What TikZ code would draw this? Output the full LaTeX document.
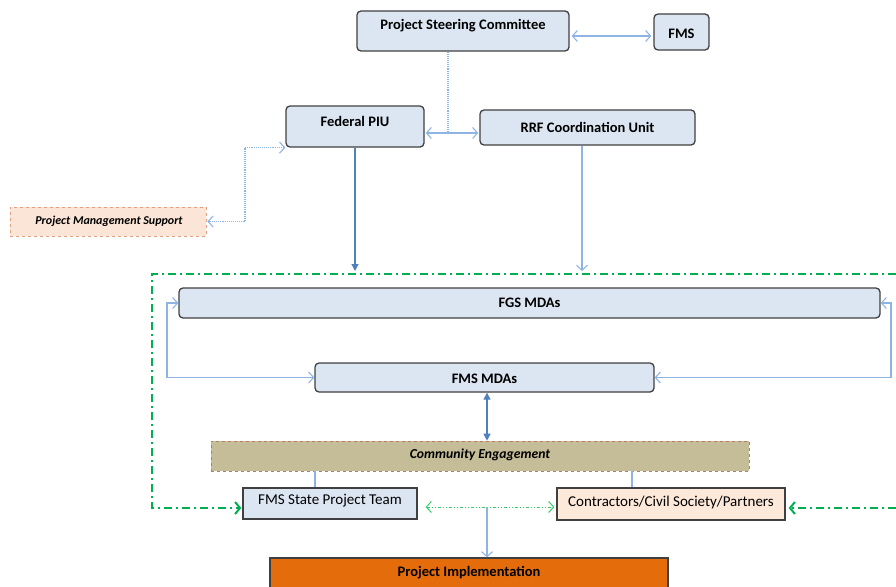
\documentclass[tikz,border=0pt]{standalone}
\usepackage{fontspec}
\setmainfont{Carlito}
\usetikzlibrary{arrows.meta,calc}
\definecolor{boxfill}{HTML}{DCE6F2}
\definecolor{boxline}{HTML}{404040}
\definecolor{lblue}{HTML}{8EB4E3}
\definecolor{dblue}{HTML}{4F81BD}
\definecolor{gdash}{HTML}{00B050}
\definecolor{glight}{HTML}{33CC66}
\definecolor{pmsfill}{HTML}{FBE5D6}
\definecolor{pmsline}{HTML}{E0A080}
\definecolor{cefill}{HTML}{C4BD97}
\definecolor{celine}{HTML}{B08060}
\definecolor{confill}{HTML}{FDE9D9}
\definecolor{implfill}{HTML}{E46C0A}
\tikzset{
  rbox/.style={draw=boxline, line width=1.3pt, fill=boxfill, rounded corners=4pt, inner sep=0pt},
  sbox/.style={draw=boxline, line width=1.3pt, inner sep=0pt},
  dbox/.style={dashed, line width=0.6pt, inner sep=0pt},
  lbl/.style={inner sep=0pt, font=\fontsize{14.5}{16}\selectfont\bfseries},
  rlbl/.style={inner sep=0pt, font=\fontsize{15}{17}\selectfont},
  ilbl/.style={inner sep=0pt, font=\fontsize{13.7}{15}\selectfont\bfseries\itshape},
  openarr/.style={draw=lblue, line width=1.1pt, arrows={Straight Barb[length=5pt,width=11pt]-Straight Barb[length=5pt,width=11pt]}},
  openend/.style={draw=lblue, line width=1.1pt, -{Straight Barb[length=5pt,width=11pt]}},
  fillarr/.style={draw=dblue, line width=1.1pt, -{Triangle[length=7pt,width=7pt]}},
  gframe/.style={draw=gdash, line width=1.8pt, dash pattern=on 8pt off 4pt on 2pt off 4pt},
  gtip/.style={-{Straight Barb[length=5pt,width=12pt,line width=2pt]}},
}
\begin{document}
\begin{tikzpicture}[x=1pt,y=-1pt]
\useasboundingbox (0,0) rectangle (896,586);
% boxes
\node[rbox, minimum width=212, minimum height=40] (psc) at (463,31) {};
\node[lbl] at (463,26) {Project Steering Committee};
\node[rbox, minimum width=55, minimum height=36] (fms) at (681.5,32) {};
\node[lbl] at (681.5,34) {FMS};
\node[rbox, minimum width=138, minimum height=41] (fpiu) at (355,126.5) {};
\node[lbl] at (355,121) {Federal PIU};
\node[rbox, minimum width=215, minimum height=35] (rrf) at (587.5,127.5) {};
\node[lbl] at (587.5,127) {RRF Coordination Unit};
\node[dbox, draw=pmsline, fill=pmsfill, minimum width=196, minimum height=29] (pms) at (108,221.5) {};
\node[ilbl, font=\fontsize{12}{14}\selectfont\bfseries\itshape] at (109,221) {Project Management Support};
\node[rbox, minimum width=701, minimum height=30] (fgs) at (529.5,303) {};
\node[lbl] at (529.5,303) {FGS MDAs};
\node[rbox, minimum width=339, minimum height=29] (fmsmda) at (484.5,377.5) {};
\node[lbl] at (484.5,379) {FMS MDAs};
\node[dbox, draw=celine, fill=cefill, minimum width=538, minimum height=30] (ce) at (480,456) {};
\node[ilbl] at (480,455) {Community Engagement};
\node[sbox, fill=boxfill, minimum width=174, minimum height=31] (team) at (330,503.5) {};
\node[rlbl] at (330,501) {FMS State Project Team};
\node[sbox, fill=confill, minimum width=228, minimum height=32] (contr) at (671,504) {};
\node[rlbl] at (671,502) {Contractors/Civil Society/Partners};
\node[sbox, fill=implfill, minimum width=398, minimum height=42] (impl) at (469,579) {};
\node[lbl] at (469,573) {Project Implementation};
% coordinates
\coordinate (j1) at (448,133);
\coordinate (j2) at (245,221);
\coordinate (lx) at (167,0);
\coordinate (rx) at (891,0);
\coordinate (cA) at (315,0);
\coordinate (cB) at (632,0);
\coordinate (j3) at (487,507);
\coordinate (gTL) at (152,274);
\coordinate (gTR) at (896,274);
\coordinate (gR) at (896,508);
\coordinate (rrfx) at (582,0);
% connectors
\draw[openarr] ($(psc.east)+(2,5)$) -- ($(psc.east -| fms.west)+(-2,5)$);
\draw[draw=lblue, line width=1.1pt, densely dotted] (psc.south -| j1) -- (j1);
\draw[openarr] ($(fpiu.east |- j1)+(1,0)$) -- ($(rrf.west |- j1)+(-1,0)$);
\draw[openarr, densely dotted] (fpiu.south west) -- (j2 |- fpiu.south west) -- (j2 |- pms.east) -- ($(pms.east)+(1,0)$);
\draw[fillarr] (fpiu.south) -- ($(fpiu.south |- gTL)+(0,-3)$);
\draw[openend] (rrfx |- rrf.south) -- ($(rrfx |- gTL)+(0,-3)$);
\draw[openarr] (fmsmda.west) -- (fmsmda.west -| lx) -- (fgs.west -| lx) -- (fgs.west);
\draw[openarr] (fgs.east) -- (fgs.east -| rx) -- (fmsmda.east -| rx) -- (fmsmda.east);
\draw[fillarr, {Triangle[length=7pt,width=7pt]}-{Triangle[length=7pt,width=7pt]}] (fmsmda.south -| j3) -- (ce.north -| j3);
\draw[draw=lblue, line width=1.1pt] (cA |- ce.south) -- (cA |- team.north);
\draw[draw=lblue, line width=1.1pt] (cB |- ce.south) -- (cB |- contr.north);
\draw[draw=glight, line width=1pt, dash pattern=on 3pt off 2pt on 1pt off 2pt on 1pt off 2pt,
  arrows={Straight Barb[length=5pt,width=11pt]-Straight Barb[length=5pt,width=11pt]}]
  ($(team.east)+(8,3.5)$) -- ($(contr.west)+(-2,3)$);
\draw[openend] (j3) -- (j3 |- impl.north);
\draw[gframe, gtip] (gTR) -- (gTL) -- (gTL |- gR) -- ($(team.west |- gR)+(-1,0)$);
\draw[gframe, gtip] (gR) -- ($(contr.east |- gR)+(3,0)$);
\end{tikzpicture}
\end{document}
